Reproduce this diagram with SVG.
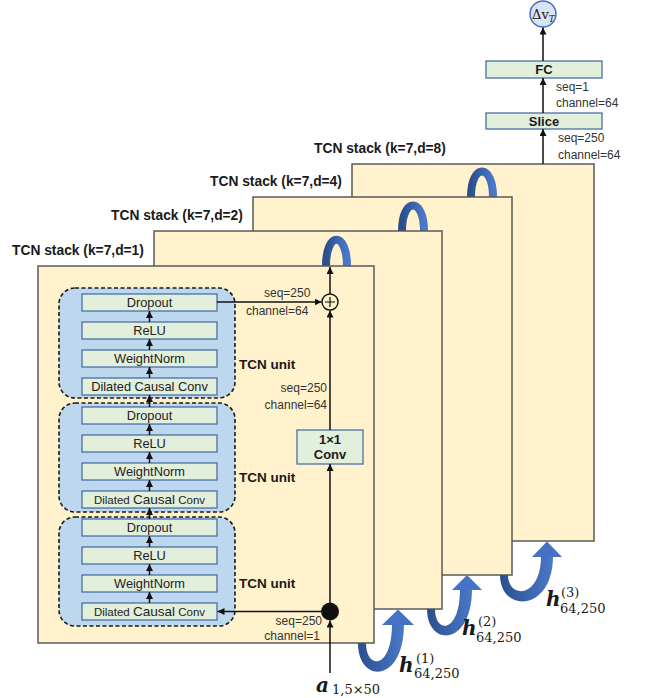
<svg xmlns="http://www.w3.org/2000/svg" width="647" height="698" viewBox="0 0 647 698">
<defs>
<style>
.stack{fill:#FFF2CC;stroke:#5a5a5a;stroke-width:1.5}
.slab{font-family:"Liberation Sans",Arial,sans-serif;font-weight:bold;font-size:13.8px;fill:#1a1a1a}
.unit{fill:#BDD7EE;stroke:#1a1a1a;stroke-width:1.6;stroke-dasharray:4 2.5}
.box{fill:#E2EFDA;stroke:#4A6FA8;stroke-width:1.3}
.bt{font-family:"Liberation Sans",Arial,sans-serif;font-size:12.8px;fill:#222;text-anchor:middle}
.bb{font-family:"Liberation Sans",Arial,sans-serif;font-size:13px;font-weight:bold;fill:#1a1a1a;text-anchor:middle}
.ul{font-family:"Liberation Sans",Arial,sans-serif;font-size:13.5px;font-weight:bold;fill:#1a1a1a}
.sm{font-family:"Liberation Sans",Arial,sans-serif;font-size:12px;fill:#333}
.ln{stroke:#111;stroke-width:1.5;fill:none}
.rib{fill:none;stroke:url(#gr);stroke-width:8}
.ribf{fill:url(#gr)}
.ahb{fill:#4472C4}
.mh{font-family:"DejaVu Serif","Liberation Serif",serif;font-weight:bold;font-style:italic;font-size:20px;fill:#1a1a1a}
.ms{font-family:"DejaVu Serif","Liberation Serif",serif;font-size:13px;fill:#1a1a1a}
</style>
<linearGradient id="gr" x1="0" y1="0" x2="1" y2="0">
<stop offset="0" stop-color="#2B4F8E"/>
<stop offset="1" stop-color="#4A78C8"/>
</linearGradient>
<marker id="ah" viewBox="0 0 10 10" refX="10" refY="5" markerWidth="7" markerHeight="7" markerUnits="userSpaceOnUse" orient="auto">
<path d="M0,0 L10,5 L0,10 z" fill="#111"/>
</marker>
</defs>
<rect width="647" height="698" fill="#ffffff"/>

<g id="stack4">
<text class="slab" x="314" y="153">TCN stack (k=7,d=8)</text>
<rect class="stack" x="352" y="164" width="242" height="377"/>
<path class="rib" d="M471 197 C471 163,493 163,493 197"/>
</g>
<g id="stack3">
<text class="slab" x="210" y="186">TCN stack (k=7,d=4)</text>
<rect class="stack" x="253" y="197" width="259" height="378"/>
<path class="rib" d="M402 231 C402 197,424 197,424 231"/>
</g>
<g id="stack2">
<text class="slab" x="111" y="220">TCN stack (k=7,d=2)</text>
<rect class="stack" x="154" y="231" width="288" height="378"/>
<path class="rib" d="M326 266 C326 231,347 231,347 266"/>
</g>
<g id="stack1">
<text class="slab" x="12" y="255">TCN stack (k=7,d=1)</text>
<rect class="stack" x="38" y="266" width="336" height="377"/>
</g>

<g id="unit1">
<rect class="unit" x="59" y="288" width="176" height="110" rx="16"/>
<rect class="box" x="82" y="294" width="135" height="17"/><text class="bt" x="149.5" y="307">Dropout</text>
<rect class="box" x="82" y="322" width="135" height="17"/><text class="bt" x="149.5" y="335">ReLU</text>
<rect class="box" x="82" y="350" width="135" height="17"/><text class="bt" x="149.5" y="363">WeightNorm</text>
<rect class="box" x="82" y="378" width="135" height="17"/><text class="bt" x="149.5" y="391" font-size="12">Dilated Causal Conv</text>
<text class="ul" x="239" y="369">TCN unit</text>
</g>
<g id="unit2">
<rect class="unit" x="59" y="403" width="176" height="109" rx="16"/>
<rect class="box" x="82" y="407" width="135" height="17"/><text class="bt" x="149.5" y="420">Dropout</text>
<rect class="box" x="82" y="435" width="135" height="17"/><text class="bt" x="149.5" y="448">ReLU</text>
<rect class="box" x="82" y="463" width="135" height="17"/><text class="bt" x="149.5" y="476">WeightNorm</text>
<rect class="box" x="82" y="491" width="135" height="17"/><text class="bt" x="149.5" y="504"><tspan font-size="11.5">Dilated </tspan><tspan font-size="13.5">Causal</tspan><tspan font-size="11.5"> Conv</tspan></text>
<text class="ul" x="239" y="482">TCN unit</text>
</g>
<g id="unit3">
<rect class="unit" x="59" y="517" width="176" height="109" rx="16"/>
<rect class="box" x="82" y="519" width="135" height="17"/><text class="bt" x="149.5" y="532">Dropout</text>
<rect class="box" x="82" y="547" width="135" height="17"/><text class="bt" x="149.5" y="560">ReLU</text>
<rect class="box" x="82" y="575" width="135" height="17"/><text class="bt" x="149.5" y="588">WeightNorm</text>
<rect class="box" x="82" y="603" width="135" height="17"/><text class="bt" x="149.5" y="616"><tspan font-size="11.5">Dilated </tspan><tspan font-size="13.5">Causal</tspan><tspan font-size="11.5"> Conv</tspan></text>
<text class="ul" x="239" y="588">TCN unit</text>
</g>

<g id="conv1x1">
<rect class="box" x="297" y="430" width="66" height="34"/>
<text class="bb" x="330" y="444" font-size="12">1×1</text>
<text class="bb" x="330" y="459" font-size="12">Conv</text>
</g>
<g id="plus">
<circle cx="330" cy="302" r="8" fill="#FFF2CC" stroke="#111" stroke-width="1.4"/>
<path d="M325 302 H335 M330 297 V307" stroke="#111" stroke-width="1.2"/>
</g>
<g id="junction">
<circle cx="330" cy="611.5" r="9" fill="#111"/>
</g>

<g id="slice">
<rect class="box" x="486" y="113" width="116" height="16"/>
<text class="bb" x="544" y="126">Slice</text>
</g>
<g id="fc">
<rect class="box" x="486" y="61" width="116" height="17"/>
<text class="bb" x="544" y="74">FC</text>
</g>
<g id="output">
<circle cx="543" cy="14" r="13" fill="#DAE3F3" stroke="#4472C4" stroke-width="1.5"/>
<text x="532" y="19" font-family="DejaVu Serif,Liberation Serif,serif" font-size="13" fill="#1a1a1a">Δv<tspan font-size="9" font-style="italic" dy="3">T</tspan></text>
</g>

<g id="connectors">
<line class="ln" x1="149.5" y1="378" x2="149.5" y2="367" marker-end="url(#ah)"/>
<line class="ln" x1="149.5" y1="350" x2="149.5" y2="339" marker-end="url(#ah)"/>
<line class="ln" x1="149.5" y1="322" x2="149.5" y2="311" marker-end="url(#ah)"/>
<line class="ln" x1="149.5" y1="407" x2="149.5" y2="395" marker-end="url(#ah)"/>
<line class="ln" x1="149.5" y1="491" x2="149.5" y2="480" marker-end="url(#ah)"/>
<line class="ln" x1="149.5" y1="463" x2="149.5" y2="452" marker-end="url(#ah)"/>
<line class="ln" x1="149.5" y1="435" x2="149.5" y2="424" marker-end="url(#ah)"/>
<line class="ln" x1="149.5" y1="519" x2="149.5" y2="508" marker-end="url(#ah)"/>
<line class="ln" x1="149.5" y1="603" x2="149.5" y2="592" marker-end="url(#ah)"/>
<line class="ln" x1="149.5" y1="575" x2="149.5" y2="564" marker-end="url(#ah)"/>
<line class="ln" x1="149.5" y1="547" x2="149.5" y2="536" marker-end="url(#ah)"/>
<line class="ln" x1="217" y1="302" x2="321.5" y2="302" marker-end="url(#ah)"/>
<line class="ln" x1="322" y1="611.5" x2="217.5" y2="611.5" marker-end="url(#ah)"/>
<line class="ln" x1="330" y1="603" x2="330" y2="464" marker-end="url(#ah)"/>
<line class="ln" x1="330" y1="430" x2="330" y2="310.5" marker-end="url(#ah)"/>
<line class="ln" x1="330" y1="294" x2="330" y2="267" marker-end="url(#ah)"/>
<line class="ln" x1="330" y1="673" x2="330" y2="620.5" marker-end="url(#ah)"/>
<line class="ln" x1="543" y1="164" x2="543" y2="129" marker-end="url(#ah)"/>
<line class="ln" x1="543" y1="113" x2="543" y2="78" marker-end="url(#ah)"/>
<line class="ln" x1="543" y1="61" x2="543" y2="27.5" marker-end="url(#ah)"/>
<path class="ribf" d="M358 643 C358 684,404 684,404 624 L392 624 C392 670,366 670,366 643 Z"/>
<polygon class="ahb" points="382,625 414,625 398,609.5"/>
<path class="ribf" d="M427 609 C427 647,472 647,472 589 L460 589 C460 634,435 634,435 609 Z"/>
<polygon class="ahb" points="452,590 482,590 467,575"/>
<path class="ribf" d="M500 575 C500 613,553 613,553 556 L541 556 C541 599,508 599,508 575 Z"/>
<polygon class="ahb" points="532,557 562,557 547,541.5"/>
</g>

<g id="labels">
<text class="sm" x="264" y="297">seq=250</text>
<text class="sm" x="246" y="315">channel=64</text>
<text class="sm" x="327" y="392" text-anchor="end">seq=250</text>
<text class="sm" x="327" y="409" text-anchor="end">channel=64</text>
<text class="sm" x="322" y="625" text-anchor="end">seq=250</text>
<text class="sm" x="320" y="640" text-anchor="end">channel=1</text>
<text class="sm" x="556" y="91">seq=1</text>
<text class="sm" x="556" y="107">channel=64</text>
<text class="sm" x="558" y="142">seq=250</text>
<text class="sm" x="558" y="159">channel=64</text>
<text class="mh" x="316" y="692" font-size="18">a</text>
<text class="ms" x="332" y="694">1,5×50</text>
<text class="mh" x="399" y="672">h</text>
<text class="ms" x="416" y="663">(1)</text>
<text class="ms" x="414" y="678">64,250</text>
<text class="mh" x="462" y="635">h</text>
<text class="ms" x="478" y="626">(2)</text>
<text class="ms" x="476" y="642">64,250</text>
<text class="mh" x="546" y="606">h</text>
<text class="ms" x="561" y="597">(3)</text>
<text class="ms" x="560" y="613">64,250</text>
</g>
</svg>
